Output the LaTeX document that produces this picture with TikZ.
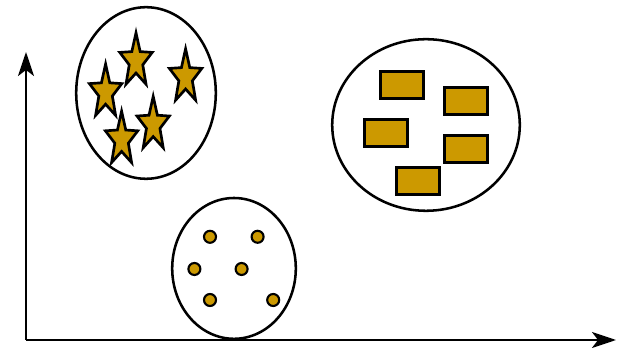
\documentclass[tikz,border=0pt]{standalone}
\usetikzlibrary{shapes.geometric,arrows.meta}
\definecolor{gold}{RGB}{204,153,0}
\begin{document}
\begin{tikzpicture}[
  blob/.style={draw,line width=1.8pt},
  axis/.style={line width=1.8pt,-{Stealth[length=0.6cm,width=0.4cm,inset=0.15cm]}},
  gstar/.style={star,star points=5,star point ratio=2.4,draw,line width=1.9pt,fill=gold,inner sep=0pt,minimum size=1.42cm,transform shape},
  gbox/.style={rectangle,draw,line width=1.9pt,fill=gold,inner sep=0pt,minimum width=1.07cm,minimum height=0.67cm},
  gdot/.style={circle,draw,line width=1.5pt,fill=gold,inner sep=0pt,minimum size=0.3cm}]
  \useasboundingbox (0,0) rectangle (15.625,8.7);
  % Axes
  \coordinate (origin) at (0.65,0.2);
  \coordinate (ytip) at (0.65,7.4);
  \coordinate (xtip) at (15.4,0.2);
  \draw[axis] (origin) -- (ytip);
  \draw[axis] (origin) -- (xtip);
  % Cluster outlines
  \draw[blob] (3.65,6.375) ellipse [x radius=1.745,y radius=2.145];
  \draw[blob] (10.65,5.575) ellipse [x radius=2.345,y radius=2.145];
  \draw[blob] (5.85,1.99) ellipse [x radius=1.545,y radius=1.76];
  % Stars
  \foreach \x/\y [count=\i] in {3.4/7.17,4.64/6.77,2.64/6.39,3.83/5.58,3.04/5.21}
    \node[gstar,shift={(\x,\y)},xscale=0.6] (s\i) at (0,0) {};
  % Boxes
  \foreach \x/\y [count=\i] in {10.055/6.58,11.65/6.175,9.65/5.38,11.65/4.98,10.445/4.175}
    \node[gbox] (b\i) at (\x,\y) {};
  % Dots
  \foreach \x/\y [count=\i] in {5.25/2.78,6.44/2.78,4.86/1.975,6.04/1.975,5.25/1.2,6.83/1.2}
    \node[gdot] (d\i) at (\x,\y) {};
\end{tikzpicture}
\end{document}
